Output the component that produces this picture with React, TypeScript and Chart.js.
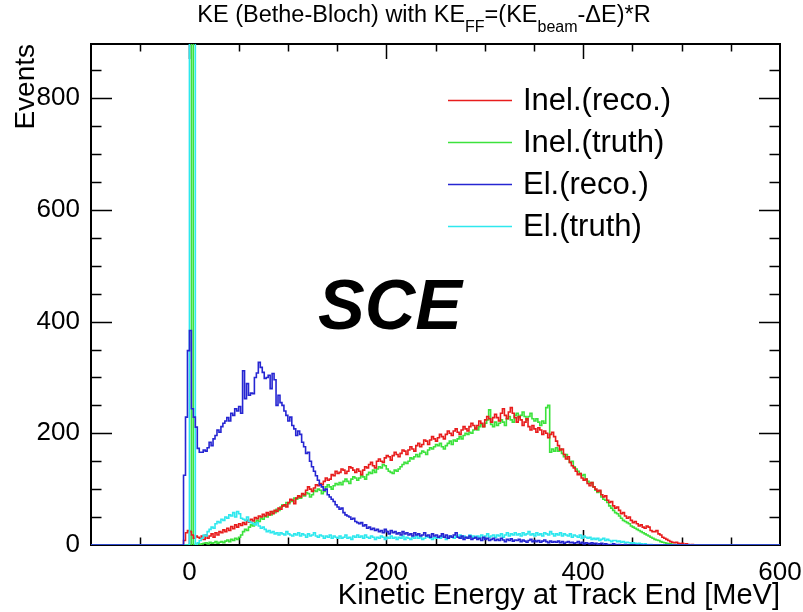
import React, { useEffect, useRef } from "react";
import { Chart, registerables } from "chart.js";

Chart.register(...registerables);

// Histogram binning: 2 MeV bins from -100 to 600 MeV
const X_MIN = -100;
const X_MAX = 600;
const BIN_W = 2;
const Y_MAX = 897;
// low edge of the first listed bin in each series; bins outside the lists are empty
const DATA_START = -8;

// Inelastic, reconstructed
const inelReco = [
  0, 8, 22, 26, 24, 18, 12, 16, 14, 12,
  16, 10, 18, 12, 16, 20, 14, 22, 18, 24,
  22, 27, 24, 30, 26, 33, 29, 36, 32, 38,
  35, 40, 37, 44, 41, 46, 43, 49, 47, 52,
  50, 55, 52, 58, 54, 60, 56, 62, 60, 66,
  64, 70, 72, 68, 76, 82, 80, 74, 84, 88,
  86, 92, 90, 98, 104, 100, 96, 102, 108, 106,
  110, 108, 114, 120, 116, 118, 126, 124, 132, 128,
  130, 136, 134, 128, 132, 140, 138, 134, 130, 136,
  132, 126, 134, 140, 138, 144, 148, 142, 138, 150,
  154, 150, 148, 156, 160, 158, 152, 160, 166, 162,
  158, 164, 170, 168, 162, 170, 176, 172, 168, 178,
  182, 176, 180, 188, 186, 180, 188, 194, 190, 186,
  192, 198, 194, 190, 198, 204, 200, 196, 204, 208,
  202, 198, 206, 212, 208, 204, 212, 218, 214, 208,
  214, 222, 218, 212, 224, 230, 226, 220, 228, 234,
  228, 222, 236, 244, 232, 226, 238, 246, 236, 228,
  220, 230, 224, 214, 220, 226, 212, 206, 214, 208,
  202, 210, 206, 198, 204, 200, 192, 198, 202, 194,
  186, 178, 170, 172, 162, 154, 158, 148, 142, 138,
  132, 126, 128, 120, 116, 118, 110, 106, 112, 104,
  100, 96, 98, 90, 86, 88, 80, 76, 78, 70,
  66, 68, 62, 56, 58, 52, 48, 50, 44, 40,
  42, 38, 34, 36, 32, 30, 34, 32, 26, 24,
  24, 26, 20, 18, 14, 12, 10, 8, 6, 5,
  4, 5, 3, 2, 3, 1, 2, 1, 0, 1,
];

// Inelastic, truth
const inelTruth = [
  0, 0, 0, 0, 0, 2000, 0, 1, 2, 1,
  2, 3, 4, 2, 5, 3, 4, 6, 3, 5,
  6, 4, 7, 9, 6, 10, 8, 12, 10, 14,
  18, 24, 28, 26, 32, 36, 34, 40, 44, 42,
  48, 46, 52, 50, 56, 54, 60, 58, 64, 62,
  68, 72, 70, 76, 74, 80, 78, 84, 82, 86,
  84, 90, 88, 94, 92, 86, 90, 98, 96, 100,
  98, 92, 96, 104, 108, 104, 100, 106, 110, 108,
  112, 108, 114, 118, 114, 110, 118, 122, 120, 116,
  120, 124, 122, 118, 126, 130, 128, 134, 130, 136,
  140, 138, 144, 142, 136, 132, 130, 128, 134, 132,
  136, 140, 144, 148, 146, 150, 156, 154, 158, 162,
  158, 164, 168, 166, 162, 170, 174, 172, 176, 180,
  178, 182, 176, 172, 178, 182, 186, 180, 188, 186,
  190, 194, 190, 196, 200, 198, 202, 200, 206, 210,
  206, 212, 216, 212, 218, 224, 242, 216, 212, 220,
  214, 218, 224, 220, 214, 226, 230, 224, 220, 232,
  236, 228, 232, 238, 230, 224, 230, 236, 226, 222,
  226, 220, 214, 222, 218, 246, 250, 166, 172, 168,
  174, 168, 172, 164, 158, 162, 154, 148, 150, 140,
  136, 132, 128, 124, 126, 118, 114, 110, 112, 104,
  98, 94, 96, 86, 82, 80, 76, 70, 66, 62,
  58, 56, 52, 48, 44, 42, 40, 38, 34, 32,
  30, 28, 26, 24, 22, 20, 18, 16, 14, 12,
  10, 9, 8, 6, 5, 4, 3, 2, 2, 1,
  1, 0, 1, 0, 0, 0, 0, 0, 0, 0,
];

// Elastic, reconstructed
const elReco = [
  0, 125, 229, 348, 384, 244, 229, 211, 173, 166,
  166, 170, 168, 174, 184, 178, 190, 196, 206, 202,
  212, 218, 222, 228, 222, 236, 232, 244, 240, 248,
  236, 312, 262, 289, 268, 272, 271, 300, 308, 327,
  318, 309, 298, 300, 304, 280, 307, 296, 250, 268,
  255, 250, 240, 232, 222, 229, 214, 208, 196, 204,
  198, 184, 176, 164, 166, 150, 140, 132, 124, 116,
  108, 104, 98, 100, 90, 86, 82, 78, 72, 68,
  64, 66, 58, 54, 52, 50, 46, 48, 42, 40,
  38, 40, 34, 36, 30, 32, 28, 30, 26, 28,
  24, 26, 22, 28, 24, 20, 26, 22, 24, 20,
  22, 18, 24, 20, 22, 18, 20, 16, 22, 18,
  20, 16, 18, 22, 16, 18, 14, 20, 16, 18,
  14, 16, 20, 14, 18, 12, 16, 14, 18, 22,
  14, 12, 16, 10, 14, 12, 16, 10, 12, 14,
  10, 12, 8, 14, 10, 12, 8, 10, 12, 8,
  10, 8, 12, 9, 6, 10, 8, 11, 7, 9,
  8, 10, 6, 9, 7, 5, 8, 10, 6, 8,
  6, 8, 5, 7, 9, 6, 4, 7, 5, 6,
  5, 7, 4, 6, 3, 5, 6, 4, 5, 3,
  4, 6, 3, 5, 2, 4, 3, 2, 4, 2,
  3, 1, 2, 3, 1, 2, 1, 0, 1, 2,
  1, 0, 1, 0, 0, 1, 0, 0, 0, 0,
];

// Elastic, truth
const elTruth = [
  0, 0, 0, 0, 2000, 2000, 2000, 0, 4, 8,
  12, 18, 16, 24, 28, 32, 30, 38, 42, 40,
  46, 44, 50, 48, 54, 52, 58, 50, 60, 56,
  48, 46, 44, 50, 42, 40, 38, 36, 40, 34,
  30, 32, 28, 24, 26, 22, 24, 20, 22, 18,
  22, 20, 18, 24, 20, 18, 16, 20, 18, 22,
  16, 20, 18, 14, 20, 16, 18, 22, 16, 14,
  18, 16, 12, 16, 14, 18, 12, 16, 14, 12,
  16, 12, 14, 18, 12, 14, 10, 16, 14, 18,
  14, 16, 12, 18, 14, 12, 16, 14, 10, 14,
  12, 16, 14, 10, 14, 12, 16, 12, 14, 10,
  14, 12, 16, 10, 14, 12, 10, 14, 12, 16,
  12, 14, 10, 12, 16, 14, 12, 10, 14, 12,
  14, 12, 16, 14, 10, 12, 16, 14, 12, 16,
  14, 18, 12, 16, 14, 12, 18, 14, 16, 12,
  16, 14, 18, 12, 16, 20, 14, 16, 18, 14,
  18, 16, 20, 14, 18, 22, 16, 20, 18, 22,
  18, 20, 16, 22, 18, 20, 24, 18, 20, 16,
  22, 18, 20, 16, 22, 20, 18, 24, 20, 16,
  20, 18, 22, 16, 20, 18, 16, 20, 14, 18,
  16, 14, 18, 12, 16, 14, 12, 14, 10, 12,
  10, 12, 8, 10, 12, 8, 10, 8, 6, 8,
  8, 6, 7, 5, 6, 4, 5, 4, 3, 4,
  3, 2, 3, 2, 1, 2, 1, 0, 1, 0,
];

const seriesNames = ["Inel.(reco.)", "Inel.(truth)", "El.(reco.)", "El.(truth)"];
const seriesColors = ["#e81c1c", "#3ce23c", "#2626d2", "#2ee8ee"];
// lower value is painted on top
const seriesLayer = [2, 3, 0, 1];

const xTickLabels = [0, 200, 400, 600];
const yTickLabels = [0, 200, 400, 600, 800];

const titleParts = [
  { text: "KE (Bethe-Bloch) with KE", sub: false },
  { text: "FF", sub: true },
  { text: "=(KE", sub: false },
  { text: "beam", sub: true },
  { text: "-\u0394E)*R", sub: false },
];
const xAxisTitle = "Kinetic Energy at Track End [MeV]";
const yAxisTitle = "Events";
const tagText = "SCE";

const FONT = '"Liberation Sans", Arial, Helvetica, sans-serif';

// Expand a listed series onto the full binning as step points (one per low edge)
function toSteps(values: number[]) {
  const nBins = Math.round((X_MAX - X_MIN) / BIN_W);
  const offset = Math.round((DATA_START - X_MIN) / BIN_W);
  const pts: { x: number; y: number }[] = [];
  for (let i = 0; i < nBins; i++) {
    const j = i - offset;
    const v = j >= 0 && j < values.length ? values[j] : 0;
    pts.push({ x: X_MIN + i * BIN_W, y: v });
  }
  pts.push({ x: X_MAX, y: pts[pts.length - 1].y });
  return pts;
}

// Frame with inward ticks on all four sides (under the histograms),
// then title, legend and labels on top
const rootStyle = {
  id: "rootStyle",
  beforeDatasetsDraw(chart: any) {
    const ctx = chart.ctx;
    const { left, right, top, bottom } = chart.chartArea;
    const xs = chart.scales.x;
    const ys = chart.scales.y;
    ctx.save();
    ctx.strokeStyle = "#000";
    ctx.lineWidth = 1.5;
    ctx.beginPath();
    for (let v = -50; v < X_MAX; v += 50) {
      const px = Math.round(xs.getPixelForValue(v)) + 0.5;
      const len = v % 200 === 0 ? 15 : 7.5;
      ctx.moveTo(px, bottom);
      ctx.lineTo(px, bottom - len);
      ctx.moveTo(px, top);
      ctx.lineTo(px, top + len);
    }
    for (let v = 50; v < Y_MAX; v += 50) {
      const py = Math.round(ys.getPixelForValue(v)) + 0.5;
      const len = v % 200 === 0 ? 21 : 10.5;
      ctx.moveTo(left, py);
      ctx.lineTo(left + len, py);
      ctx.moveTo(right, py);
      ctx.lineTo(right - len, py);
    }
    ctx.stroke();
    ctx.lineWidth = 2;
    ctx.strokeRect(left, top, right - left, bottom - top);
    ctx.restore();
  },
  afterDraw(chart: any) {
    const ctx = chart.ctx;
    const { right, top } = chart.chartArea;
    ctx.save();
    ctx.fillStyle = "#000";

    // title with subscripts
    const mainFont = `23.5px ${FONT}`;
    const subFont = `16px ${FONT}`;
    let total = 0;
    const widths = titleParts.map((p) => {
      ctx.font = p.sub ? subFont : mainFont;
      const w = ctx.measureText(p.text).width;
      total += w;
      return w;
    });
    let tx = 424 - total / 2;
    ctx.textBaseline = "alphabetic";
    ctx.textAlign = "left";
    titleParts.forEach((p, i) => {
      ctx.font = p.sub ? subFont : mainFont;
      ctx.fillText(p.text, tx, p.sub ? 32 : 22);
      tx += widths[i];
    });

    // axis titles, flush with the far ends of the axes
    ctx.font = `29px ${FONT}`;
    ctx.textAlign = "right";
    ctx.fillText(xAxisTitle, right, 604);
    ctx.save();
    ctx.translate(34, top);
    ctx.rotate(-Math.PI / 2);
    ctx.font = `28px ${FONT}`;
    ctx.textAlign = "right";
    ctx.fillText(yAxisTitle, 0, 0);
    ctx.restore();

    // legend
    ctx.font = `31px ${FONT}`;
    ctx.textAlign = "left";
    ctx.textBaseline = "middle";
    const rows = [100, 142, 184, 226];
    chart.data.datasets.forEach((ds: any, i: number) => {
      const y = rows[i];
      ctx.strokeStyle = ds.borderColor;
      ctx.lineWidth = 1.5;
      ctx.beginPath();
      ctx.moveTo(448, y + 0.5);
      ctx.lineTo(512, y + 0.5);
      ctx.stroke();
      ctx.fillStyle = "#000";
      ctx.fillText(ds.label, 523, y + 1);
    });

    // bold italic tag
    ctx.font = `italic bold 70px ${FONT}`;
    ctx.textBaseline = "alphabetic";
    ctx.fillText(tagText, 318, 329);
    ctx.restore();
  },
};

export default function App() {
  const canvasRef = useRef<HTMLCanvasElement | null>(null);

  useEffect(() => {
    const canvas = canvasRef.current;
    if (!canvas) return;
    const series = [inelReco, inelTruth, elReco, elTruth];
    const chart = new Chart(canvas, {
      type: "line",
      data: {
        datasets: series.map((vals, i) => ({
          label: seriesNames[i],
          data: toSteps(vals),
          borderColor: seriesColors[i],
          backgroundColor: seriesColors[i],
          borderWidth: 1.6,
          pointRadius: 0,
          fill: false,
          stepped: "before" as const,
          order: seriesLayer[i],
        })),
      },
      options: {
        responsive: false,
        maintainAspectRatio: false,
        animation: false,
        events: [],
        parsing: false as any,
        normalized: true,
        layout: { padding: { top: 44, right: 23, left: 0, bottom: 0 } },
        plugins: {
          legend: { display: false },
          title: { display: false },
          tooltip: { enabled: false },
        },
        scales: {
          x: {
            type: "linear",
            min: X_MIN,
            max: X_MAX,
            grid: { display: false, drawTicks: false },
            border: { display: false },
            ticks: {
              color: "#000",
              font: { family: FONT, size: 26 },
              padding: 12,
              maxRotation: 0,
              autoSkip: false,
            },
            afterBuildTicks: (s: any) => {
              s.ticks = xTickLabels.map((v) => ({ value: v }));
            },
            afterFit: (s: any) => {
              s.height = 67;
              s.paddingLeft = 0;
              s.paddingRight = 0;
            },
          },
          y: {
            type: "linear",
            min: 0,
            max: Y_MAX,
            grid: { display: false, drawTicks: false },
            border: { display: false },
            ticks: {
              color: "#000",
              font: { family: FONT, size: 26 },
              padding: 11,
              autoSkip: false,
            },
            afterBuildTicks: (s: any) => {
              s.ticks = yTickLabels.map((v) => ({ value: v }));
            },
            afterFit: (s: any) => {
              s.width = 91;
              s.paddingTop = 0;
              s.paddingBottom = 0;
            },
          },
        },
      },
      plugins: [rootStyle],
    });
    return () => chart.destroy();
  }, []);

  return (
    <div
      style={{
        position: "absolute",
        left: 0,
        top: 0,
        width: 803,
        height: 612,
        background: "#fff",
      }}
    >
      <canvas ref={canvasRef} width={803} height={612} style={{ display: "block" }} />
    </div>
  );
}
